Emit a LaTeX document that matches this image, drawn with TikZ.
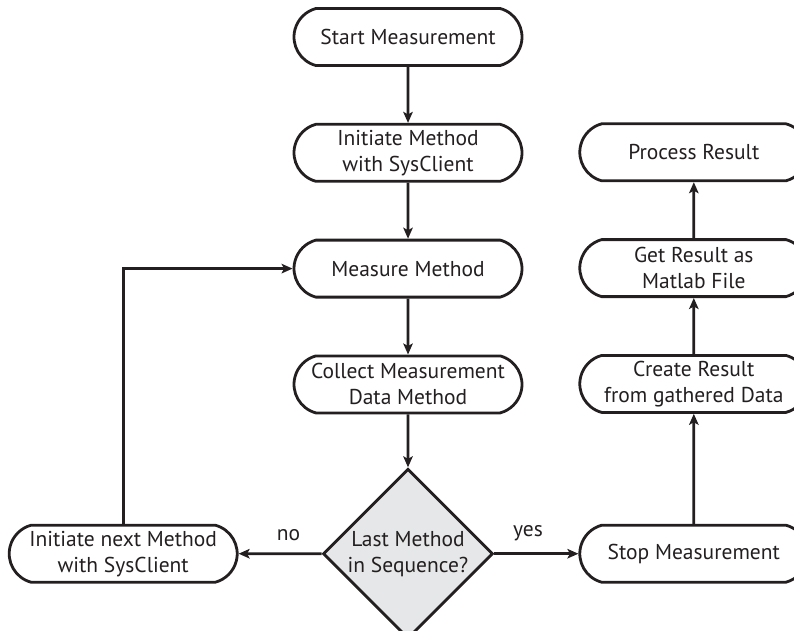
\documentclass[tikz,border=0pt]{standalone}
\usepackage{fontspec}
\setmainfont{PT Sans}
\usepackage{tikz}
\usetikzlibrary{positioning,shapes,arrows.meta}
\definecolor{ink}{HTML}{231F20}
\definecolor{decfill}{HTML}{E6E7E8}
\tikzset{
  basic/.style  = {draw=ink, line width=2.8pt, text=ink, align=center,
                   font=\fontsize{21.5}{26}\selectfont},
  process/.style = {basic, rounded rectangle, rounded rectangle arc length=150,
                   minimum width=228pt, minimum height=57pt, inner sep=0pt},
  decision/.style = {basic, diamond, fill=decfill, minimum width=170pt,
                   minimum height=170pt, inner sep=0pt},
  post/.style={-{Stealth[length=11pt,width=9.5pt,inset=2.5pt]}, draw=ink, line width=2.8pt},
  answer/.style={text=ink, font=\fontsize{21.5}{26}\selectfont, pos=0.4, above=8pt}
}
\begin{document}
\begin{tikzpicture}[node distance=56pt]
  \useasboundingbox (0,0) rectangle (794pt,-630pt);
  \node[process] (start) at (408pt,-37pt) {Start Measurement};
  \node[process] (init)    [below=of start]   {Initiate Method\\with SysClient};
  \node[process] (measure) [below=of init]    {Measure Method};
  \node[process] (collect) [below=of measure] {Collect Measurement\\Data Method};
  \node[decision] (last)   [below=53pt of collect] {Last Method\\in Sequence?};
  \node[process] (next)    [left=83pt of last]  {Initiate next Method\\with SysClient};
  \node[process] (stop)    [right=84pt of last] {Stop Measurement};
  \node[process] (create)  [above=110pt of stop]  {Create Result\\from gathered Data};
  \node[process] (get)     [above=of create]  {Get Result as\\Matlab File};
  \node[process] (proc)    [above=of get]     {Process Result};

  \draw[post] (start) -- (init);
  \draw[post] (init) -- (measure);
  \draw[post] (measure) -- (collect);
  \draw[post] (collect) -- (last);
  \draw[post] (last) -- node[answer] {no} (next);
  \draw[post] (last) -- node[answer] {yes} (stop);
  \draw[post] (next.north) |- (measure.west);
  \draw[post] (stop) -- (create);
  \draw[post] (create) -- (get);
  \draw[post] (get) -- (proc);
\end{tikzpicture}
\end{document}
